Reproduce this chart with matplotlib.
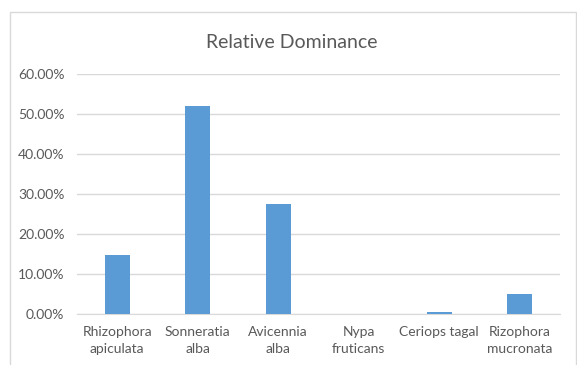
import matplotlib.pyplot as plt
from matplotlib.patches import Rectangle
from matplotlib.ticker import PercentFormatter

species = [
    "Rhizophora\napiculata",
    "Sonneratia\nalba",
    "Avicennia\nalba",
    "Nypa\nfruticans",
    "Ceriops tagal",
    "Rizophora\nmucronata",
]
dominance = [0.148, 0.521, 0.274, 0.0, 0.005, 0.051]
y_ticks = [0.0, 0.1, 0.2, 0.3, 0.4, 0.5, 0.6]

BAR = "#5b9bd5"
TEXT = "#595959"
GRID = "#d9d9d9"

plt.rcParams["font.family"] = ["Lato", "DejaVu Sans"]

fig = plt.figure(figsize=(5.77, 3.65), dpi=100)
fig.patch.set_facecolor("white")

# light chart-area frame, open at the bottom edge
fig.patches.append(Rectangle((10 / 577, -0.1), 566 / 577, 1.1 - 12 / 365,
                             transform=fig.transFigure, fill=False,
                             edgecolor="#d9d9d9", linewidth=1.0))

ax = fig.add_axes([77 / 577, 51 / 365, 483 / 577, 240 / 365])
x = range(len(species))
ax.bar(x, dominance, width=0.31, color=BAR, zorder=3)

ax.set_xlim(-0.5, len(species) - 0.5)
ax.set_ylim(0, 0.6)
ax.set_yticks(y_ticks)
ax.yaxis.set_major_formatter(PercentFormatter(1.0, decimals=2))
ax.set_xticks(list(x))
ax.set_xticklabels(species, linespacing=1.45)

ax.grid(axis="y", color=GRID, linewidth=1.0, zorder=0)
for side in ("top", "right", "left"):
    ax.spines[side].set_visible(False)
ax.spines["bottom"].set_color(GRID)
ax.tick_params(axis="both", length=0, colors=TEXT, labelsize=10)
ax.tick_params(axis="y", pad=9)
ax.tick_params(axis="x", pad=9)

fig.text(0.506, 1 - 42 / 365, "Relative Dominance", ha="center", va="center",
         fontsize=14, color=TEXT)

fig.savefig("out.png", dpi=100)
